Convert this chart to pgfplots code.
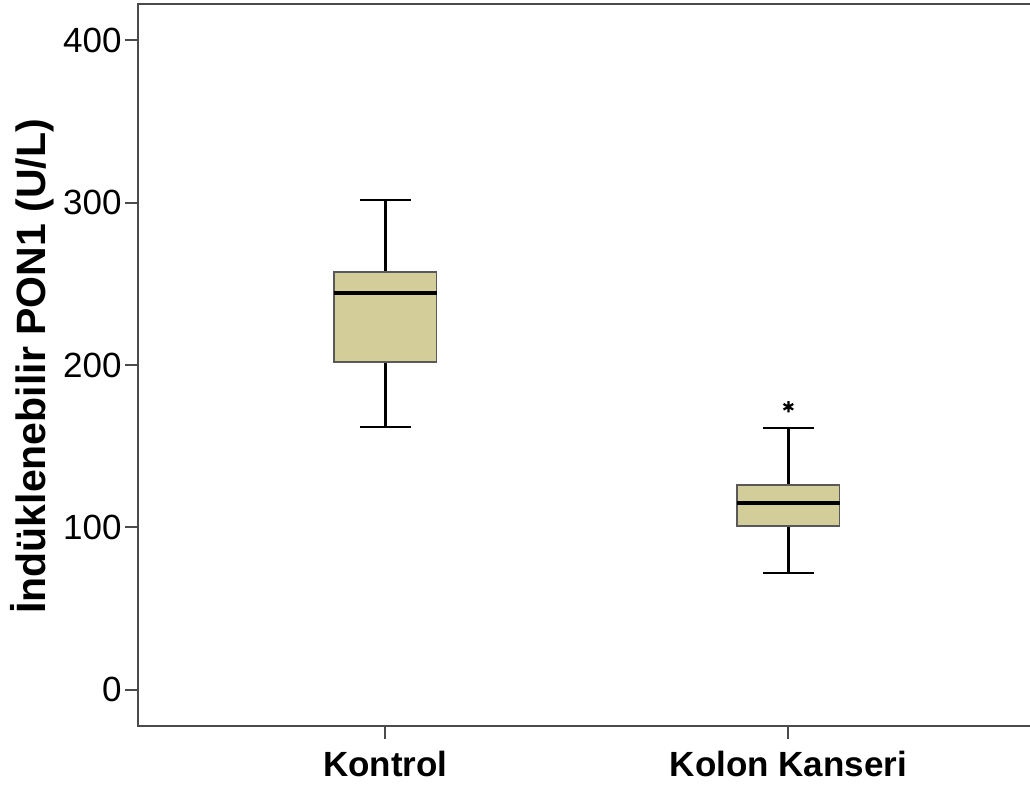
\documentclass[border=0pt]{standalone}
\usepackage{fontspec}
\setmainfont{Liberation Sans}
\usepackage{pgfplots}
\pgfplotsset{compat=1.18}
\definecolor{boxfill}{RGB}{211,206,153}
\definecolor{axisgray}{RGB}{75,75,75}
\begin{document}
\begin{tikzpicture}
\begin{axis}[
  at={(0,0)}, anchor=south west,
  scale only axis, width=446pt, height=361pt,
  xmin=-0.6137, xmax=1.5994, ymin=-22.2, ymax=422.2,
  clip=false,
  axis line style={draw=none},
  tick pos=left,
  tick align=outside,
  major tick length=6.5pt,
  tick style={axisgray, line width=1pt},
  xtick={0,1},
  xticklabels={Kontrol, Kolon Kanseri},
  ytick={0,100,200,300,400},
  /pgf/number format/assume math mode=true,
  yticklabel style={font=\fontsize{17.5}{21}\selectfont, inner xsep=1.5pt},
  xticklabel style={font=\fontsize{17.5}{21}\selectfont\bfseries, yshift=-2.5pt},
  ylabel={İndüklenebilir PON1 (U/L)},
  ylabel style={font=\fontsize{20.5}{24}\selectfont\bfseries, at={(axis description cs:-0.1188,0.498)}, anchor=center},
]
% Kontrol
\addplot[black, line width=1.2pt] coordinates {(0,257) (0,301.5)};
\addplot[black, line width=1.2pt] coordinates {(0,202) (0,162)};
\addplot[black, line width=1.2pt] coordinates {(-0.0635,301.5) (0.0635,301.5)};
\addplot[black, line width=1.2pt] coordinates {(-0.0635,162) (0.0635,162)};
\addplot[fill=boxfill, draw=black!65, line width=0.9pt] coordinates {(-0.127,202) (0.127,202) (0.127,257) (-0.127,257)} -- cycle;
\addplot[black, line width=2pt] coordinates {(-0.127,244.5) (0.127,244.5)};
% Kolon Kanseri
\addplot[black, line width=1.2pt] coordinates {(1,126.2) (1,161.4)};
\addplot[black, line width=1.2pt] coordinates {(1,101.1) (1,71.8)};
\addplot[black, line width=1.2pt] coordinates {(0.9365,161.4) (1.0635,161.4)};
\addplot[black, line width=1.2pt] coordinates {(0.9365,71.8) (1.0635,71.8)};
\addplot[fill=boxfill, draw=black!65, line width=0.9pt] coordinates {(0.873,101.1) (1.127,101.1) (1.127,126.2) (0.873,126.2)} -- cycle;
\addplot[black, line width=2pt] coordinates {(0.873,114.9) (1.127,114.9)};
% outlier
\addplot[only marks, mark=asterisk, mark size=2.8pt, mark options={black, line width=1.1pt}] coordinates {(1,174.3)};
\draw[axisgray, line width=1pt] (rel axis cs:1.02,1) -- (rel axis cs:0,1) -- (rel axis cs:0,0) -- (rel axis cs:1.02,0);
\end{axis}
\pgfresetboundingbox
\path[use as bounding box] (-69pt,-32.5pt) rectangle (446pt,363pt);
\end{tikzpicture}
\end{document}
